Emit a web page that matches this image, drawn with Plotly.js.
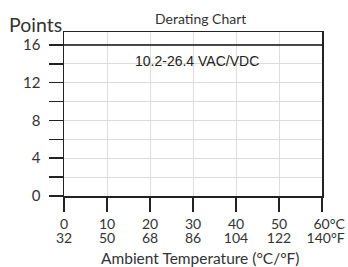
<!DOCTYPE html>
<html>
<head>
<meta charset="utf-8">
<script src="https://cdn.plot.ly/plotly-3.0.1.min.js"></script>
<style>html,body{margin:0;padding:0;background:#fff;}#chart{width:348px;height:267px;}</style>
</head>
<body>
<div id="chart"></div>
<script>
var tempC = [0, 60];
var points = [16, 16];
var xTickVals = [0, 10, 20, 30, 40, 50, 60];
var xTickTextC = ["0", "10", "20", "30", "40", "50", "\u00a0\u00a0\u00a0\u00a060°C"];
var xTickTextF = ["32", "50", "68", "86", "104", "122", "\u00a0\u00a0140°F"];
var yTickVals = [0, 2, 4, 6, 8, 10, 12, 14, 16];
var yTickText = ["0", "", "4", "", "8", "", "12", "", "16"];
var seriesLabel = "10.2-26.4 VAC/VDC";
var labelPos = [31, 14.25];

var font = "Lato, 'Open Sans', sans-serif";

var data = [{
  x: tempC, y: points, type: 'scatter', mode: 'lines',
  line: {color: '#111', width: 1.5}, cliponaxis: false, hoverinfo: 'skip'
}, {
  x: tempC, y: points, xaxis: 'x2', type: 'scatter', mode: 'lines',
  line: {color: 'rgba(0,0,0,0)', width: 0}, hoverinfo: 'skip'
}];

var layout = {
  width: 348, height: 267,
  margin: {l: 64, r: 26, t: 32, b: 71},
  paper_bgcolor: '#fff', plot_bgcolor: '#fff',
  showlegend: false,
  font: {family: font, color: '#333', size: 14},
  xaxis: {
    range: [0, 60], tickvals: xTickVals, ticktext: xTickTextC,
    ticks: 'outside', ticklen: 14, tickwidth: 1.5, tickcolor: '#222',
    showline: true, linecolor: '#222', linewidth: 1.5, mirror: true,
    showgrid: true, gridcolor: '#dcdcdc', gridwidth: 1,
    zeroline: false, fixedrange: true, ticklabelstandoff: 1,
    tickfont: {family: font, size: 14, color: '#333'}
  },
  xaxis2: {
    overlaying: 'x', matches: 'x', anchor: 'y', side: 'bottom',
    range: [0, 60], tickvals: xTickVals, ticktext: xTickTextF,
    ticks: '', showline: false, showgrid: false, zeroline: false,
    fixedrange: true, ticklabelstandoff: 32,
    tickfont: {family: font, size: 14, color: '#333'}
  },
  yaxis: {
    range: [0, 17.37], tickvals: yTickVals, ticktext: yTickText,
    ticks: 'outside', ticklen: 14, tickwidth: 1.5, tickcolor: '#222',
    showline: true, linecolor: '#222', linewidth: 1.5, mirror: true,
    showgrid: true, gridcolor: '#dcdcdc', gridwidth: 1,
    zeroline: false, fixedrange: true, ticklabelstandoff: 5,
    tickfont: {family: font, size: 15, color: '#333'}
  },
  annotations: [
    {text: 'Derating Chart', xref: 'paper', yref: 'paper', x: 0.53, y: 1.085,
     xanchor: 'center', yanchor: 'middle', showarrow: false,
     font: {family: font, size: 14, color: '#333'}},
    {text: 'Points', xref: 'paper', yref: 'paper', x: -0.22, y: 1.045,
     xanchor: 'left', yanchor: 'middle', showarrow: false,
     font: {family: font, size: 19.5, color: '#333'}},
    {text: seriesLabel, xref: 'x', yref: 'y', x: labelPos[0], y: labelPos[1],
     xanchor: 'center', yanchor: 'middle', showarrow: false,
     font: {family: "'Liberation Sans', Arial, sans-serif", size: 14, color: '#222'}},
    {text: 'Ambient Temperature (°C/°F)', xref: 'paper', yref: 'paper', x: 0.529, y: -0.38,
     xanchor: 'center', yanchor: 'middle', showarrow: false,
     font: {family: font, size: 15.5, color: '#333'}}
  ]
};

Plotly.newPlot('chart', data, layout, {staticPlot: true, displayModeBar: false});
</script>
</body>
</html>
